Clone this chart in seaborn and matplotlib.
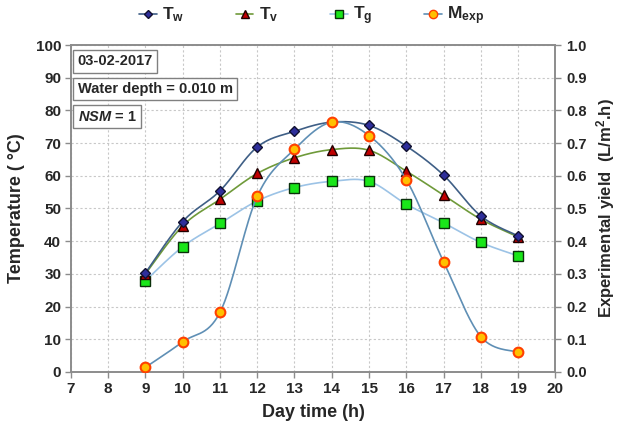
import numpy as np
import pandas as pd
import matplotlib
matplotlib.use("Agg")
import matplotlib.pyplot as plt
from matplotlib.lines import Line2D
import seaborn as sns

hours = [9, 10, 11, 12, 13, 14, 15, 16, 17, 18, 19]
T_w = [30.3, 46.0, 55.4, 68.8, 73.6, 76.4, 75.4, 69.1, 60.2, 47.7, 41.6]
T_v = [30.0, 44.7, 52.8, 60.7, 65.5, 68.0, 67.8, 61.4, 54.1, 46.7, 41.3]
T_g = [27.9, 38.3, 45.4, 52.3, 56.4, 58.3, 58.3, 51.3, 45.6, 39.6, 35.5]
M_exp = [0.014, 0.092, 0.182, 0.537, 0.681, 0.764, 0.723, 0.588, 0.337, 0.108, 0.060]

sns.set_theme(style="white")
plt.rcParams['font.family'] = ['Liberation Sans', 'DejaVu Sans']
plt.rcParams['mathtext.fontset'] = 'custom'
plt.rcParams['mathtext.rm'] = 'Liberation Sans:bold'
plt.rcParams['mathtext.it'] = 'Liberation Sans:bold:italic'
plt.rcParams['mathtext.bf'] = 'Liberation Sans:bold'


def smooth(x, y, n=30):
    # Excel-like smoothed line (Catmull-Rom Bezier) through data points
    x = np.asarray(x, float); y = np.asarray(y, float)
    P = np.column_stack([x, y])
    out = []
    for i in range(len(P) - 1):
        p0 = P[i - 1] if i > 0 else P[i]
        p1 = P[i]; p2 = P[i + 1]
        p3 = P[i + 2] if i + 2 < len(P) else P[i + 1]
        c1 = p1 + (p2 - p0) / 6.0
        c2 = p2 - (p3 - p1) / 6.0
        t = np.linspace(0, 1, n, endpoint=(i == len(P) - 2))[:, None]
        b = ((1 - t) ** 3) * p1 + 3 * ((1 - t) ** 2) * t * c1 + 3 * (1 - t) * t ** 2 * c2 + t ** 3 * p2
        out.append(b)
    b = np.vstack(out)
    return pd.DataFrame({"x": b[:, 0], "y": b[:, 1]})


fig = plt.figure(figsize=(6.17, 4.37), dpi=100)
ax = fig.add_axes([0.115, 0.149, 0.785, 0.748])
ax2 = ax.twinx()

styles = {
    "Tw": dict(line="#3f5f86", marker="D", face="#2e2e9a", edge="#101030", ms=5),
    "Tv": dict(line="#6f9a3a", marker="^", face="#c00000", edge="#200000", ms=7),
    "Tg": dict(line="#9cc3e6", marker="s", face="#19e619", edge="#0a300a", ms=7),
    "M": dict(line="#5f8fb5", marker="o", face="#ffc000", edge="#ff4000", ms=7),
}

for key, data in [("Tg", T_g), ("Tv", T_v), ("Tw", T_w)]:
    s = styles[key]
    sm = smooth(hours, data)
    sns.lineplot(data=sm, x="x", y="y", ax=ax, color=s["line"], lw=1.2, sort=False, estimator=None)

sm = smooth(hours, M_exp)
sns.lineplot(data=sm, x="x", y="y", ax=ax2, color=styles["M"]["line"], lw=1.2, sort=False, estimator=None)

for key, data in [("Tg", T_g), ("Tv", T_v), ("Tw", T_w)]:
    s = styles[key]
    ax.plot(hours, data, ls="none", marker=s["marker"], ms=s["ms"], mfc=s["face"], mec=s["edge"], mew=1.0, zorder=5)
s = styles["M"]
ax2.plot(hours, M_exp, ls="none", marker=s["marker"], ms=s["ms"], mfc=s["face"], mec=s["edge"], mew=1.5, zorder=5)

ax.set_xlim(7, 20)
ax.set_ylim(0, 100)
ax2.set_ylim(0, 1.0)
ax.set_xticks(range(7, 21))
ax.set_yticks(range(0, 101, 10))
ax2.set_yticks(np.arange(0, 1.01, 0.1))
ax2.set_yticklabels([f"{v:.1f}" for v in np.arange(0, 1.01, 0.1)])

ax.grid(True, color="#c8c8c8", ls=(0, (2, 2)), lw=0.8)
ax.set_axisbelow(True)
for sp in list(ax.spines.values()) + list(ax2.spines.values()):
    sp.set_color("#8c8c8c")
    sp.set_linewidth(1.2)

ax.tick_params(axis="both", which="major", direction="out", length=4, width=1, color="#8c8c8c",
               labelsize=11, pad=3, bottom=True, left=True)
ax2.tick_params(axis="y", direction="out", length=4, width=1, color="#8c8c8c", labelsize=10.5, pad=4, right=True)
for lab in ax.get_xticklabels() + ax.get_yticklabels() + ax2.get_yticklabels():
    lab.set_fontweight("bold")

ax.set_xlabel("Day time (h)", fontsize=13, fontweight="bold", labelpad=6)
ax.set_ylabel("Temperature ( °C)", fontsize=13, fontweight="bold", labelpad=8)
ax2.set_ylabel("Experimental yield  (L/m$^2$.h)", fontsize=12, fontweight="bold", labelpad=5)
ax2.grid(False)

box = dict(boxstyle="square,pad=0.3", fc="white", ec="#808080", lw=1.0)
ax.text(0.014, 0.972, "03-02-2017", transform=ax.transAxes, fontsize=10.5, fontweight="bold",
        ha="left", va="top", bbox=box)
ax.text(0.014, 0.887, "Water depth = 0.010 m", transform=ax.transAxes, fontsize=10.5, fontweight="bold",
        ha="left", va="top", bbox=box)
ax.text(0.014, 0.802, "$\\mathit{NSM}$ = 1", transform=ax.transAxes, fontsize=10.5, fontweight="bold",
        ha="left", va="top", bbox=box)

handles = []
labels = ["T$_\\mathregular{w}$", "T$_\\mathregular{v}$", "T$_\\mathregular{g}$", "M$_\\mathregular{exp}$"]
for key in ["Tw", "Tv", "Tg", "M"]:
    s = styles[key]
    handles.append(Line2D([0], [0], color=s["line"], lw=1.2, marker=s["marker"], ms=s["ms"] - 1,
                          mfc=s["face"], mec=s["edge"], mew=1.0))
leg = fig.legend(handles, labels, loc="center", bbox_to_anchor=(0.505, 0.963), ncol=4, frameon=False,
                 fontsize=12.5, handlelength=1.0, handletextpad=0.3, columnspacing=3.0)
for t in leg.get_texts():
    t.set_fontweight("bold")

fig.savefig("out.png", dpi=100, facecolor="white")
